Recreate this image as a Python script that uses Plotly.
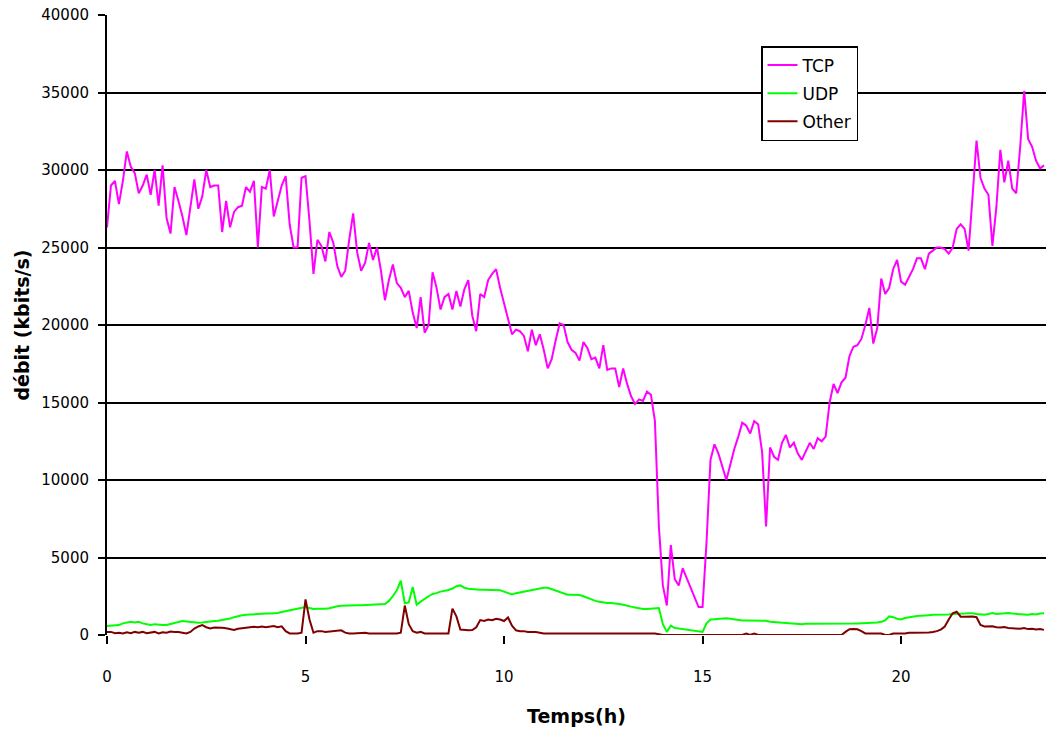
import plotly.graph_objects as go

# Sampling: one point every 0.1 h from 0 to 23.6 h
hours = [round(i * 0.1, 1) for i in range(237)]

tcp = [
    26300, 29000, 29300, 27800, 29300, 31200, 30200, 29800, 28500, 29000,
    29700, 28400, 30000, 27700, 30300, 26900, 25900, 28900, 28000, 27000,
    25800, 27500, 29400, 27500, 28300, 30000, 28900, 29000, 29000, 26000,
    28000, 26300, 27300, 27600, 27700, 28900, 28600, 29300, 25000, 28900,
    28800, 30000, 27000, 28000, 29000, 29600, 26500, 25000, 25000, 29500,
    29600, 26700, 23300, 25500, 25100, 24100, 26000, 25300, 23800, 23100,
    23500, 25500, 27200, 24700, 23500, 24000, 25300, 24200, 25000, 23500,
    21600, 22900, 23900, 22700, 22400, 21800, 22200, 20800, 19800, 21800,
    19500, 20000, 23400, 22400, 21000, 21800, 22000, 21000, 22200, 21200,
    22300, 22900, 20600, 19600, 22000, 21800, 22900, 23300, 23600, 22400,
    21400, 20300, 19400, 19700, 19600, 19300, 18300, 19700, 18700, 19400,
    18400, 17200, 17800, 19000, 20100, 20000, 18900, 18400, 18200, 17700,
    18900, 18500, 17800, 17900, 17200, 18700, 17100, 17200, 17200, 16000,
    17200, 16200, 15400, 14900, 15200, 15100, 15700, 15500, 13800, 7000,
    3200, 1900, 5800, 3600, 3200, 4300, 3700, 3100, 2400, 1800,
    1800, 6000, 11300, 12300, 11700, 10800, 10000, 11000, 12000, 12800,
    13700, 13500, 13000, 13800, 13600, 11800, 7000, 12100, 11500, 11300,
    12400, 12900, 12100, 12400, 11700, 11300, 11900, 12400, 12000, 12700,
    12500, 12800, 15000, 16200, 15600, 16300, 16600, 18000, 18600, 18700,
    19100, 20000, 21100, 18800, 19800, 23000, 22000, 22400, 23600, 24200,
    22800, 22600, 23100, 23600, 24300, 24300, 23600, 24600, 24800, 25000,
    25000, 24900, 24600, 25000, 26200, 26500, 26200, 24800, 28300, 31900,
    29500, 28800, 28400, 25100, 27600, 31300, 29200, 30600, 28800, 28500,
    31500, 35100, 32000, 31500, 30600, 30100, 30300,
]

udp = [
    575, 600, 620, 640, 750, 820, 850, 800, 850, 750,
    700, 640, 700, 650, 640, 640, 700, 750, 850, 900,
    870, 830, 790, 790, 800, 850, 880, 900, 915, 950,
    1000, 1060, 1150, 1230, 1270, 1300, 1320, 1340, 1370, 1380,
    1380, 1380, 1380, 1420, 1480, 1530, 1600, 1640, 1700, 1760,
    1800, 1740, 1680, 1700, 1680, 1700, 1720, 1800, 1850, 1880,
    1900, 1920, 1920, 1920, 1920, 1930, 1940, 1950, 1960, 1960,
    2000, 2200, 2500, 2880, 3500, 2050, 2100, 3100, 1950, 2150,
    2350, 2500, 2650, 2700, 2800, 2850, 2900, 3000, 3150, 3200,
    3050, 2980, 2950, 2920, 2920, 2920, 2900, 2900, 2880, 2880,
    2800, 2700, 2620, 2700, 2750, 2800, 2850, 2920, 2950, 3000,
    3050, 3050, 2950, 2880, 2800, 2650, 2600, 2600, 2600, 2580,
    2500, 2400, 2280, 2200, 2150, 2100, 2060, 2060, 2050, 2000,
    1950, 1870, 1830, 1780, 1720, 1680, 1680, 1700, 1720, 1740,
    700, 200, 600, 450, 420, 380, 350, 320, 300, 250,
    200, 750, 1000, 1020, 1050, 1070, 1085, 1050, 1000, 950,
    930, 930, 930, 920, 930, 930, 920, 850, 830, 800,
    770, 760, 760, 740, 720, 700, 720, 720, 720, 720,
    720, 720, 740, 740, 720, 700, 720, 740, 740, 750,
    760, 750, 760, 780, 800, 850, 950, 1200, 1150, 1050,
    1000, 1100, 1150, 1200, 1220, 1250, 1250, 1280, 1300, 1300,
    1300, 1300, 1330, 1350, 1350, 1350, 1380, 1400, 1400, 1350,
    1320, 1300, 1350, 1420, 1350, 1380, 1400, 1420, 1380, 1350,
    1320, 1300, 1300, 1350, 1330, 1380, 1400,
]

other = [
    200, 200, 120, 150, 100, 180, 120, 200, 150, 200,
    120, 150, 200, 100, 180, 150, 220, 200, 200, 150,
    100, 200, 420, 550, 640, 500, 420, 480, 490, 470,
    430, 350, 320, 400, 430, 450, 480, 530, 500, 540,
    500, 560, 580, 500, 560, 250, 100, 100, 100, 150,
    2300, 1000, 150, 250, 250, 200, 220, 250, 280, 300,
    150, 100, 100, 120, 100, 150, 100, 120, 100, 100,
    100, 100, 100, 100, 150, 1900, 700, 250, 150, 200,
    100, 100, 100, 100, 100, 100, 100, 1700, 1200, 350,
    320, 300, 320, 500, 960, 900, 1000, 950, 1050, 1000,
    900, 1130, 600, 300, 250, 250, 200, 200, 200, 150,
    100, 100, 100, 100, 100, 100, 100, 100, 100, 100,
    100, 100, 100, 100, 100, 100, 100, 100, 100, 100,
    100, 100, 100, 100, 100, 100, 100, 100, 100, 50,
    0, 0, 0, 0, 0, 0, 0, 0, 0, 0,
    0, 0, 0, 0, 0, 0, 0, 0, 0, 0,
    0, 100, 0, 100, 0, 0, 0, 0, 0, 0,
    0, 0, 0, 0, 0, 0, 0, 0, 0, 0,
    0, 0, 0, 0, 0, 0, 200, 370, 380, 370,
    250, 100, 100, 100, 100, 100, 0, 0, 100, 80,
    100, 100, 150, 150, 150, 150, 150, 160, 200, 250,
    350, 550, 1000, 1400, 1500, 1180, 1180, 1180, 1200, 1150,
    650, 550, 540, 560, 500, 480, 520, 450, 440, 420,
    400, 450, 380, 400, 350, 380, 330,
]

series_names = ["TCP", "UDP", "Other"]
series_colors = ["#FF00FF", "#00FF00", "#800000"]
y_ticks = [0, 5000, 10000, 15000, 20000, 25000, 30000, 35000, 40000]
y_tick_labels = ["0", "5000", "10000", "15000", "20000", "25000", "30000", "35000", "40000"]
x_ticks = [0, 5, 10, 15, 20]
x_tick_labels = ["0", "5", "10", "15", "20"]

FONT = "DejaVu Sans"

fig = go.Figure()
for name, vals, col in zip(series_names, [tcp, udp, other], series_colors):
    fig.add_trace(go.Scatter(
        x=hours, y=vals, mode="lines", name=name, legendgroup=name,
        line=dict(color=col, width=2),
    ))

fig.update_layout(
    width=1046, height=729,
    margin=dict(l=107, r=0, t=15, b=94),
    paper_bgcolor="white", plot_bgcolor="white",
    font=dict(family=FONT, size=15, color="black"),
    showlegend=True,
    legend=dict(
        x=0.6965, y=0.95, xanchor="left", yanchor="top",
        bgcolor="white", bordercolor="black", borderwidth=1.5,
        font=dict(family=FONT, size=17, color="black"),
        traceorder="grouped", tracegroupgap=3,
        itemwidth=30,
    ),
    xaxis=dict(
        range=[0, 23.65], tickvals=x_ticks, ticktext=x_tick_labels,
        ticks="outside", ticklen=8,
        tickwidth=1.5, tickcolor="black", showgrid=False, zeroline=False,
        showline=False, ticklabelstandoff=20,
        tickfont=dict(family=FONT, size=15),
        title=dict(text="<b>Temps(h)</b>", font=dict(family=FONT, size=19), standoff=24),
    ),
    yaxis=dict(
        range=[0, 40000], tickvals=y_ticks, ticktext=y_tick_labels,
        ticks="outside", ticklen=7,
        tickwidth=1.5, tickcolor="black", showgrid=True, gridcolor="black",
        gridwidth=1.5, zeroline=False, showline=True, linecolor="black",
        linewidth=2, ticklabelstandoff=6,
        tickfont=dict(family=FONT, size=15),
        title=dict(text="<b>débit (kbits/s)</b>", font=dict(family=FONT, size=19), standoff=7),
    ),
)

fig.write_html("out.html")
